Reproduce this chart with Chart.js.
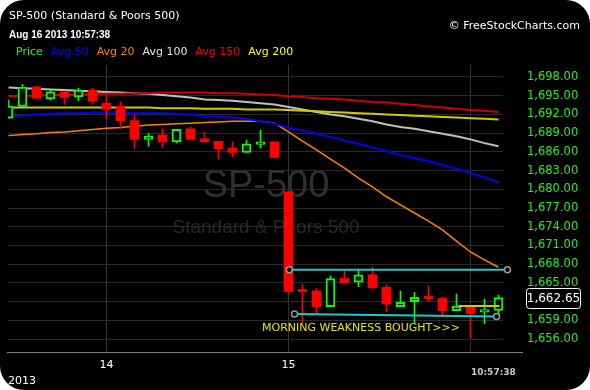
<!DOCTYPE html>
<html>
<head>
<meta charset="utf-8">
<script src="https://cdn.jsdelivr.net/npm/chart.js@4.4.0/dist/chart.umd.min.js"></script>
<style>
html, body { margin: 0; padding: 0; background: #fff; }
#wrap { position: relative; width: 590px; height: 390px; background: #000; border-radius: 24px; overflow: hidden; font-family: "DejaVu Sans", sans-serif; }
#c { position: absolute; left: 0; top: 0; }
.t { position: absolute; white-space: nowrap; color: #fff; font-size: 11px; line-height: 13px; }
.leg span { margin-right: 8px; }
</style>
</head>
<body>
<div id="wrap">
  <canvas id="c" width="590" height="390"></canvas>
  <div class="t" style="left:9px;top:9px;">SP-500 (Standard &amp; Poors 500)</div>
  <div class="t" style="left:9px;top:28px;font-family:'Liberation Sans',sans-serif;font-weight:bold;font-size:10px;">Aug 16 2013 10:57:38</div>
  <div class="t leg" style="left:16px;top:45px;">
    <span style="color:#00ff00">Price</span><span style="color:#0000ff">Avg 50</span><span style="color:#ff8000">Avg 20</span><span style="color:#e0e0e0">Avg 100</span><span style="color:#ff0000">Avg 150</span><span style="color:#ffff00">Avg 200</span>
  </div>
  <div class="t" style="right:10px;top:19px;">© FreeStockCharts.com</div>
  <div class="t" style="left:262px;top:321px;color:#e6e600;">MORNING WEAKNESS BOUGHT&gt;&gt;&gt;</div>
  <div class="t" style="left:8px;top:374px;">2013</div>
  <div class="t" style="left:471px;top:366px;color:#c8c8c8;font-weight:bold;font-size:9px;">10:57:38</div>
</div>
<script>
// 30 minute bars, Aug 13 (tail) .. Aug 16 morning
var opens  = [1691.4, 1693.3, 1696.4, 1694.5, 1695.6, 1694.8, 1695.9, 1693.8, 1693.3, 1691.0,
              1688.0, 1688.7, 1687.6, 1689.7, 1688.1, 1687.7, 1686.6, 1685.9, 1687.2, 1687.6,
              1679.6, 1663.7, 1663.7, 1661.2, 1665.7, 1665.1, 1666.3, 1664.3, 1661.2, 1662.0,
              1662.8, 1662.5, 1660.55, 1661.2, 1660.3, 1660.6];
var highs  = [1694.3, 1696.8, 1696.5, 1695.9, 1695.8, 1696.2, 1696.2, 1695.1, 1694.0, 1691.9,
              1688.9, 1689.7, 1689.6, 1690.0, 1689.1, 1687.7, 1687.6, 1687.9, 1689.5, 1687.6,
              1679.6, 1664.8, 1664.1, 1666.1, 1667.0, 1666.95, 1667.5, 1664.65, 1663.7, 1663.5,
              1664.5, 1662.7, 1663.2, 1661.2, 1662.4, 1663.05];
var lows   = [1691.4, 1693.3, 1694.6, 1694.3, 1693.6, 1694.2, 1693.6, 1691.3, 1689.7, 1686.5,
              1686.9, 1686.7, 1687.4, 1688.0, 1687.6, 1684.85, 1685.2, 1685.9, 1686.6, 1685.1,
              1663.2, 1658.5, 1660.1, 1661.2, 1665.0, 1664.4, 1664.1, 1660.4, 1661.2, 1658.6,
              1662.1, 1659.5, 1660.55, 1656.2, 1658.45, 1659.6];
var closes = [1693.35, 1696.4, 1694.6, 1695.6, 1694.7, 1695.9, 1694.1, 1692.8, 1691.0, 1688.0,
              1688.5, 1687.6, 1689.6, 1688.0, 1687.6, 1686.5, 1685.9, 1687.3, 1687.6, 1685.1,
              1663.6, 1663.6, 1661.2, 1665.7, 1665.0, 1666.3, 1664.2, 1661.6, 1661.9, 1662.7,
              1662.5, 1660.55, 1661.3, 1660.1, 1660.7, 1662.65];

var avg20  = [1688.6, 1688.8, 1688.9, 1689.1, 1689.2, 1689.4, 1689.6, 1689.8, 1689.9, 1690.1,
              1690.3, 1690.4, 1690.5, 1690.6, 1690.7, 1690.8, 1690.9, 1690.9, 1690.9, 1690.6,
              1689.2, 1687.7, 1686.3, 1684.85, 1683.4, 1681.8, 1680.4, 1678.8, 1677.5, 1676.2,
              1674.9, 1673.5, 1671.7, 1669.95, 1668.7, 1667.5];
var avg50  = [1691.7, 1691.8, 1692.0, 1692.1, 1692.2, 1692.2, 1692.3, 1692.3, 1692.3, 1692.2,
              1692.2, 1692.2, 1692.1, 1692.0, 1691.7, 1691.6, 1691.5, 1691.3, 1690.9, 1690.5,
              1689.9, 1689.4, 1688.9, 1688.4, 1687.8, 1687.3, 1686.7, 1686.1, 1685.5, 1685.0,
              1684.5, 1683.9, 1683.3, 1682.6, 1681.9, 1681.1];
var avg100 = [1696.3, 1696.2, 1696.1, 1696.0, 1695.9, 1695.8, 1695.7, 1695.6, 1695.5, 1695.4,
              1695.3, 1695.1, 1694.9, 1694.7, 1694.4, 1694.3, 1694.2, 1694.0, 1693.8, 1693.6,
              1693.2, 1692.8, 1692.4, 1692.0, 1691.7, 1691.3, 1690.9, 1690.4, 1690.0, 1689.7,
              1689.3, 1688.9, 1688.5, 1688.0, 1687.4, 1686.9];
var avg150 = [1694.9, 1695.0, 1695.0, 1695.1, 1695.1, 1695.2, 1695.2, 1695.3, 1695.3, 1695.4,
              1695.4, 1695.5, 1695.5, 1695.5, 1695.5, 1695.4, 1695.4, 1695.3, 1695.2, 1695.1,
              1694.9, 1694.8, 1694.6, 1694.5, 1694.4, 1694.2, 1694.0, 1693.9, 1693.7, 1693.5,
              1693.3, 1693.1, 1692.9, 1692.7, 1692.6, 1692.4];
var avg200 = [1693.1, 1693.1, 1693.1, 1693.1, 1693.1, 1693.1, 1693.1, 1693.1, 1693.1, 1693.1,
              1693.1, 1693.0, 1693.0, 1693.0, 1692.9, 1692.9, 1692.9, 1692.8, 1692.8, 1692.8,
              1692.7, 1692.6, 1692.5, 1692.4, 1692.3, 1692.2, 1692.1, 1692.0, 1691.9, 1691.8,
              1691.7, 1691.6, 1691.5, 1691.4, 1691.3, 1691.2];

// drawn trend lines (bar index, price)
var upperLineAt = [20.06, 35.64];
var upperLine   = [1667.1, 1667.1];
var lowerLineAt = [20.43, 34.86];
var lowerLine   = [1660.0, 1659.6];
var markLineAt  = [32.14, 35.07];
var markLine    = [1661.3, 1661.3];

var lastPrice = 1662.65;
var yTicks = [1656, 1659, 1662, 1665, 1668, 1671, 1674, 1677, 1680, 1683, 1686, 1689, 1692, 1695, 1698];
var dayTicks = [7, 20, 33];
var dayLabels = ['14', '15', ''];

var idx = closes.map(function (c, i) { return i; });
var upIdx = idx.filter(function (i) { return closes[i] >= opens[i]; });
var dnIdx = idx.filter(function (i) { return closes[i] < opens[i]; });
function pts(arr) { return arr.map(function (v, i) { return { x: i, y: v }; }); }
function pairs(xs, ys) { return xs.map(function (x, i) { return { x: x, y: ys[i] }; }); }
function fmt(v) { return v.toLocaleString('en-US', { minimumFractionDigits: 2, maximumFractionDigits: 2 }); }

var decor = {
  id: 'decor',
  beforeDatasetsDraw: function (chart) {
    var ctx = chart.ctx;
    ctx.save();
    ctx.textAlign = 'center';
    ctx.textBaseline = 'middle';
    ctx.fillStyle = '#303030';
    ctx.font = '38px "Liberation Sans", sans-serif';
    ctx.fillText('SP-500', 266, 187);
    ctx.fillStyle = '#272727';
    ctx.font = '19px "Liberation Sans", sans-serif';
    ctx.fillText('Standard & Poors 500', 266, 228);
    ctx.restore();
  },
  afterDraw: function (chart) {
    var ctx = chart.ctx, a = chart.chartArea;
    ctx.save();
    ctx.strokeStyle = '#808080';
    ctx.lineWidth = 1;
    ctx.beginPath();
    ctx.moveTo(a.left - 1, a.bottom + 0.5);
    ctx.lineTo(a.right + 20, a.bottom + 0.5);
    ctx.stroke();
    var y = Math.round(chart.scales.y.getPixelForValue(lastPrice));
    ctx.strokeStyle = '#ffffff';
    ctx.beginPath();
    ctx.roundRect(526.5, y - 9.5, 54, 20, 3);
    ctx.stroke();
    ctx.fillStyle = '#ffffff';
    ctx.font = '12px "DejaVu Sans", sans-serif';
    ctx.textAlign = 'center';
    ctx.textBaseline = 'middle';
    ctx.fillText(fmt(lastPrice), 553.5, y + 0.5);
    ctx.restore();
  }
};

var lineStyle = { type: 'line', pointRadius: 0, borderWidth: 2, tension: 0, order: 3 };
var trendStyle = { type: 'line', borderColor: '#20c8c8', borderWidth: 2, pointRadius: 3, pointBorderWidth: 1.5,
                   pointBorderColor: '#9a9a9a', pointBackgroundColor: '#000', clip: false, order: 0 };

new Chart(document.getElementById('c'), {
  type: 'bar',
  data: {
    datasets: [
      Object.assign({}, lineStyle, { label: 'Avg 200', data: pts(avg200), borderColor: '#cccc00' }),
      Object.assign({}, lineStyle, { label: 'Avg 150', data: pts(avg150), borderColor: '#cc0000' }),
      Object.assign({}, lineStyle, { label: 'Avg 100', data: pts(avg100), borderColor: '#c0c0c0' }),
      Object.assign({}, lineStyle, { label: 'Avg 50', data: pts(avg50), borderColor: '#0000ee' }),
      Object.assign({}, lineStyle, { label: 'Avg 20', data: pts(avg20), borderColor: '#ff8000', borderWidth: 1.5 }),
      {
        label: 'wick up', order: 2, grouped: false, barThickness: 1,
        data: upIdx.map(function (i) { return { x: i, y: [lows[i], highs[i]] }; }),
        backgroundColor: '#00ff00'
      },
      {
        label: 'wick down', order: 2, grouped: false, barThickness: 1,
        data: dnIdx.map(function (i) { return { x: i, y: [lows[i], highs[i]] }; }),
        backgroundColor: '#ff0000'
      },
      {
        label: 'up', order: 1, grouped: false, barThickness: 9,
        data: upIdx.map(function (i) { return { x: i, y: [opens[i], closes[i]] }; }),
        backgroundColor: '#000', borderColor: '#00ff00', borderWidth: 2, borderSkipped: false
      },
      {
        label: 'down', order: 1, grouped: false, barThickness: 9, minBarLength: 2,
        data: dnIdx.map(function (i) { return { x: i, y: [opens[i], closes[i]] }; }),
        backgroundColor: '#ff0000', borderWidth: 0
      },
      Object.assign({}, trendStyle, { label: 'upper', data: pairs(upperLineAt, upperLine) }),
      Object.assign({}, trendStyle, { label: 'lower', data: pairs(lowerLineAt, lowerLine) }),
      { type: 'line', label: 'mark', data: pairs(markLineAt, markLine), borderColor: '#cccc00', borderWidth: 2, pointRadius: 0, order: 0 }
    ]
  },
  options: {
    responsive: false,
    animation: false,
    events: [],
    layout: { padding: { left: 8, top: 65, right: 0, bottom: 0 } },
    plugins: { legend: { display: false }, tooltip: { enabled: false } },
    scales: {
      x: {
        type: 'linear',
        offset: false,
        min: -0.5 / 14,
        max: -0.5 / 14 + 495 / 14,
        afterFit: function (s) { s.height = 38; },
        afterBuildTicks: function (s) { s.ticks = dayTicks.map(function (v) { return { value: v }; }); },
        grid: { color: '#333333', drawTicks: false, offset: false },
        border: { display: false },
        ticks: {
          color: '#ffffff', padding: 7, autoSkip: false, maxRotation: 0,
          font: { family: 'DejaVu Sans', size: 11 },
          callback: function (v, i) { return dayLabels[i]; }
        }
      },
      y: {
        position: 'right',
        min: 1653.92,
        max: 1699.92,
        afterFit: function (s) { s.width = 87; },
        afterBuildTicks: function (s) { s.ticks = yTicks.map(function (v) { return { value: v }; }); },
        grid: { color: '#2a2a2a', drawTicks: false },
        border: { display: false },
        ticks: {
          color: '#22ee22', padding: 24,
          font: { family: 'DejaVu Sans', size: 11.5 },
          // the last-price box covers the nearest tick label
          callback: function (v) { return Math.abs(v - lastPrice) < 1.5 ? '' : fmt(v); }
        }
      }
    }
  },
  plugins: [decor]
});
</script>
</body>
</html>
